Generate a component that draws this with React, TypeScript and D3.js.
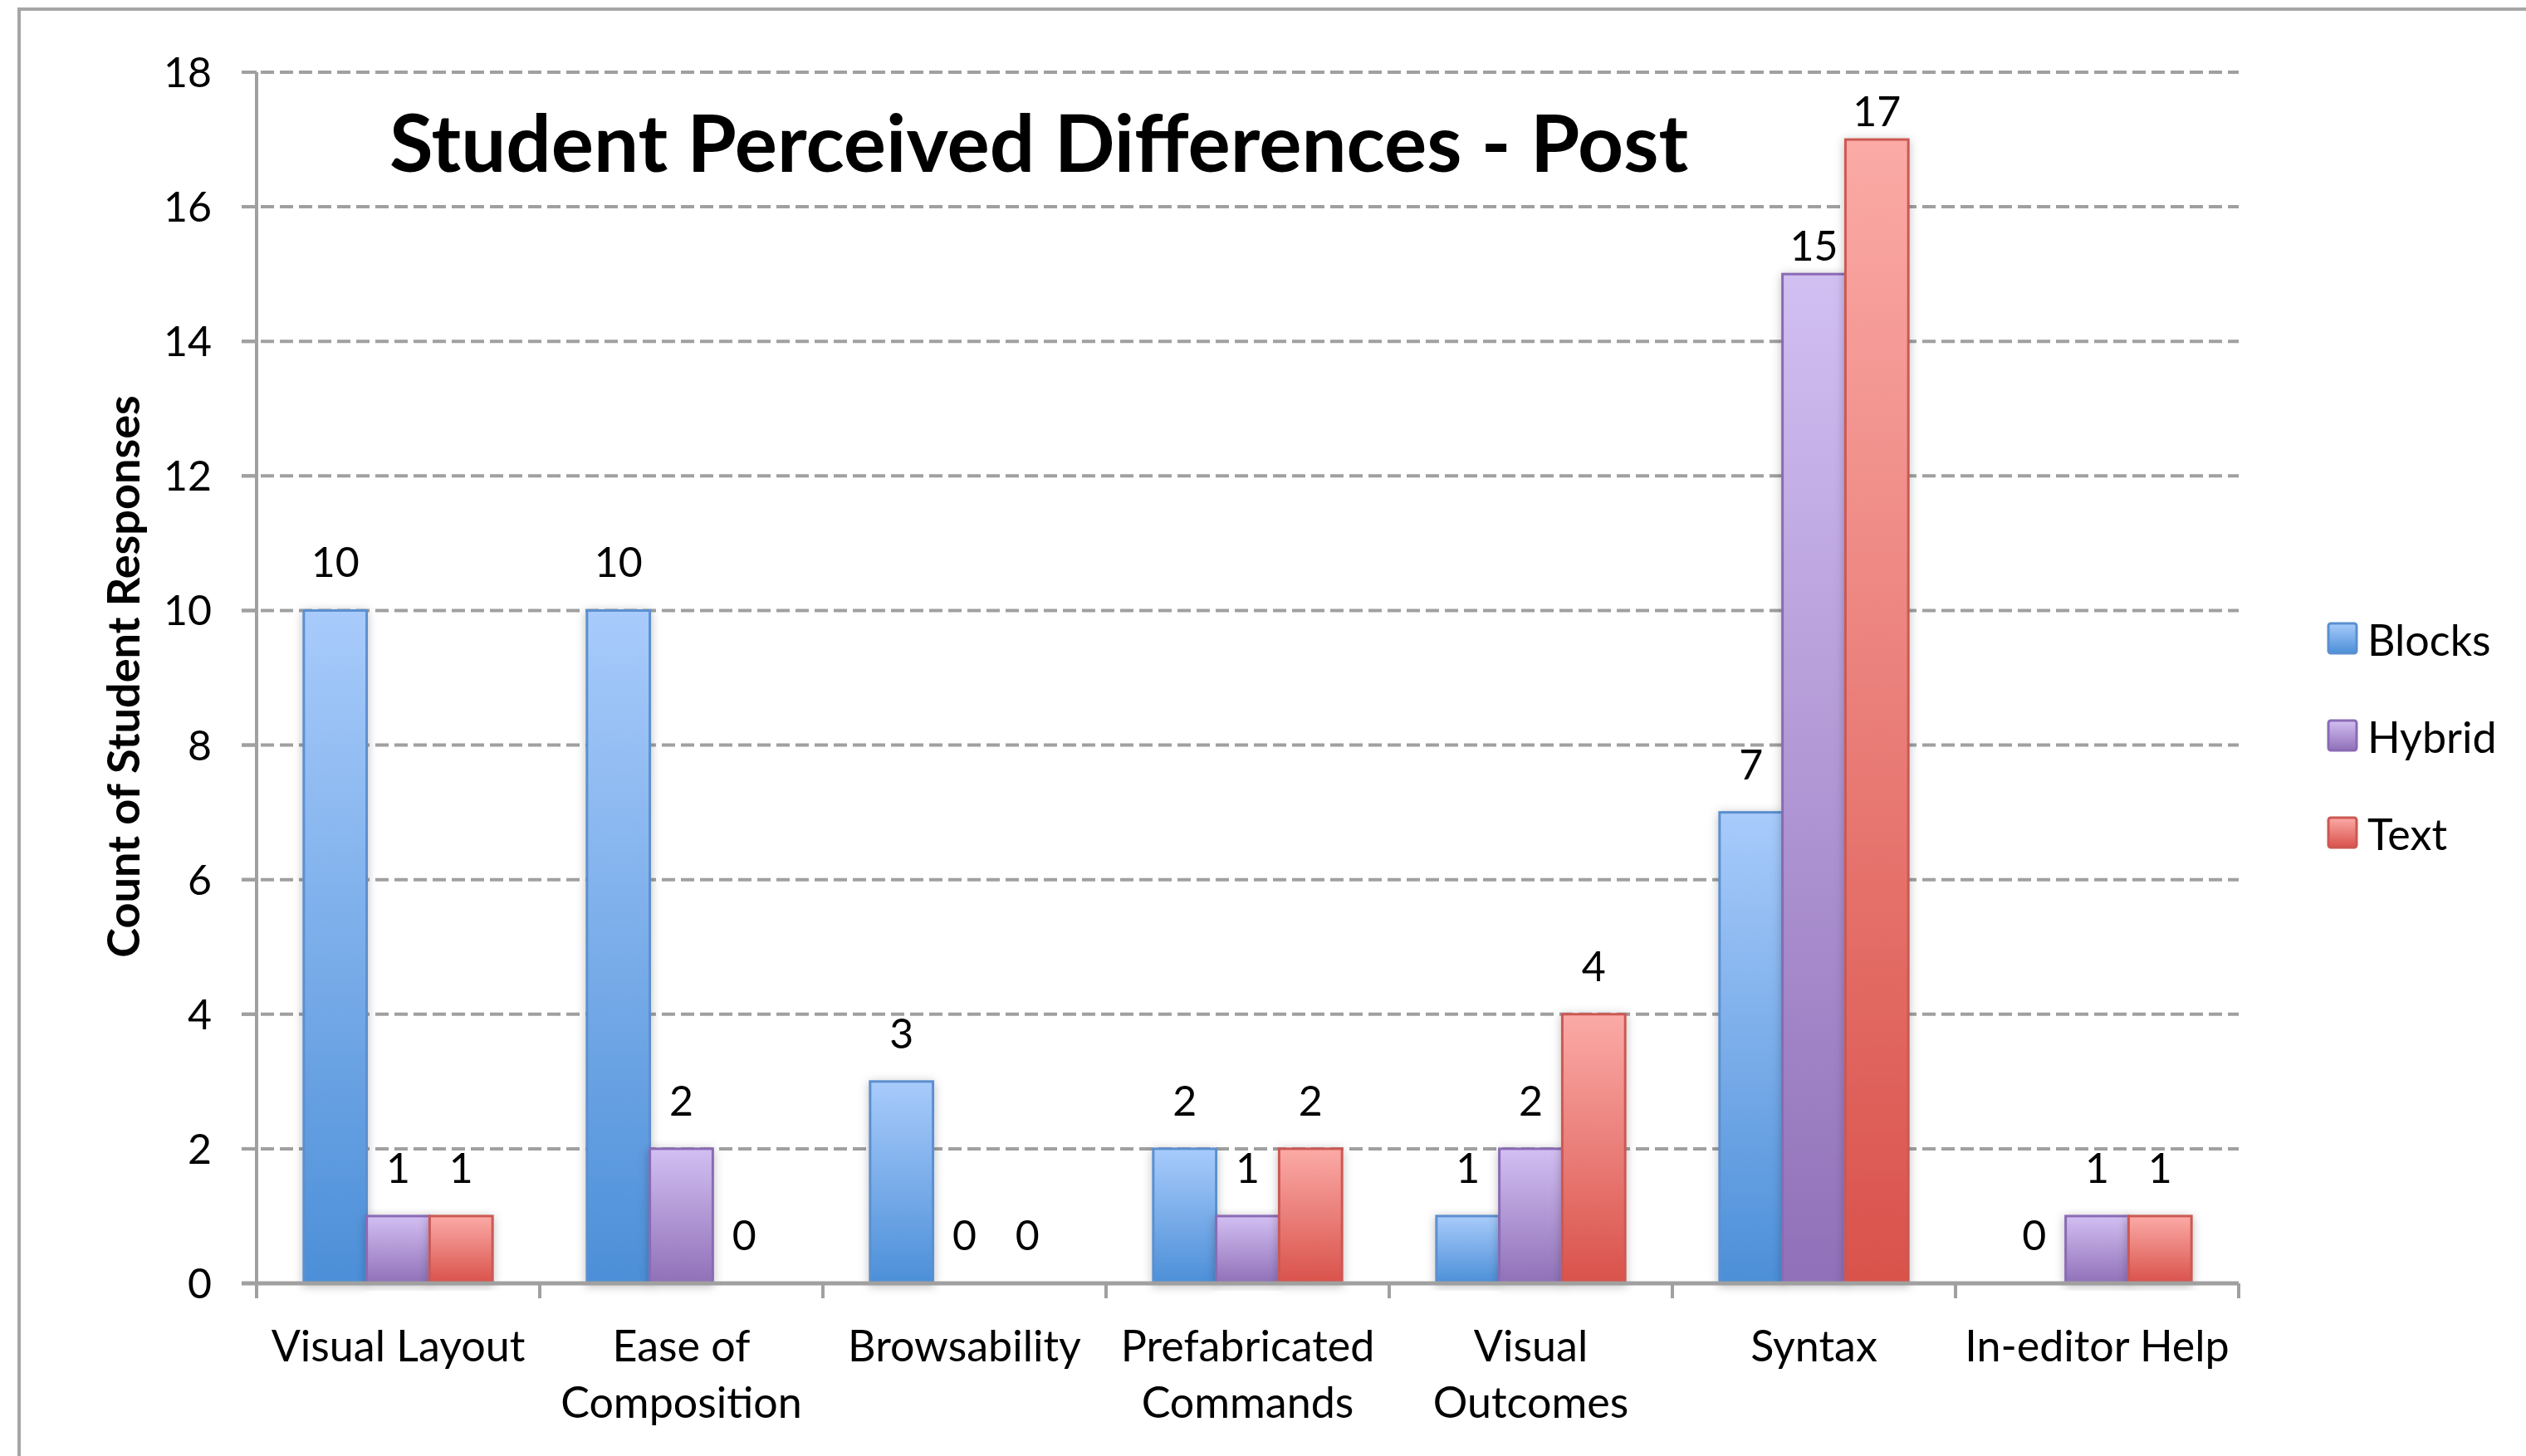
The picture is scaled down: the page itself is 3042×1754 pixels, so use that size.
import React from 'react';
import * as d3 from 'd3';

const categories = [
  'Visual Layout',
  'Ease of\nComposition',
  'Browsability',
  'Prefabricated\nCommands',
  'Visual\nOutcomes',
  'Syntax',
  'In-editor Help',
];
const seriesNames = ['Blocks', 'Hybrid', 'Text'];
const blocksValues = [10, 10, 3, 2, 1, 7, 0];
const hybridValues = [1, 2, 0, 1, 2, 15, 1];
const textValues = [1, 0, 0, 2, 4, 17, 1];
const yTickValues = [0, 2, 4, 6, 8, 10, 12, 14, 16, 18];

const seriesValues = [blocksValues, hybridValues, textValues];
const seriesStyle = [
  { top: '#a8cbfb', bottom: '#4c8fd8', stroke: '#5b8fcf' },
  { top: '#d2bff2', bottom: '#9070b8', stroke: '#8a6bb5' },
  { top: '#fbaaa6', bottom: '#d9524b', stroke: '#cc5852' },
];

const W = 3042;
const H = 1754;
const plotLeft = 309;
const plotRight = 2696;
const plotTop = 87;
const plotBottom = 1546;
const FONT = 'Lato, "Open Sans", sans-serif';
const GRID = '#a0a0a0';

export default function App() {
  const x0 = d3
    .scaleBand<string>()
    .domain(categories)
    .range([plotLeft, plotRight])
    .paddingInner(1 / 3)
    .paddingOuter(1 / 6);
  const x1 = d3
    .scaleBand<string>()
    .domain(seriesNames)
    .range([0, x0.bandwidth()]);
  const y = d3.scaleLinear().domain([0, 18]).range([plotBottom, plotTop]);
  const step = x0.step();
  const boundaries = d3.range(categories.length + 1).map((i) => plotLeft + i * step);

  const labelGap = (v: number) => (v >= 15 ? 16 : 40);

  return (
    <svg
      width={W}
      height={H}
      style={{ position: 'absolute', left: 0, top: 0, display: 'block', background: '#fff' }}
      fontFamily={FONT}
    >
      <defs>
        {seriesStyle.map((s, i) => (
          <linearGradient key={i} id={`grad${i}`} x1="0" y1="0" x2="0" y2="1">
            <stop offset="0%" stopColor={s.top} />
            <stop offset="100%" stopColor={s.bottom} />
          </linearGradient>
        ))}
        <filter id="shadow" x="-30%" y="-10%" width="160%" height="120%">
          <feDropShadow dx="0" dy="2" stdDeviation="6" floodColor="#000" floodOpacity="0.25" />
        </filter>
      </defs>

      {/* outer border */}
      <rect x={23} y={11} width={W + 100} height={H + 100} fill="#fff" stroke="#a6a6a6" strokeWidth={4} />

      {/* gridlines */}
      {yTickValues
        .filter((t) => t > 0)
        .map((t) => (
          <line
            key={`g${t}`}
            x1={plotLeft - 18}
            x2={plotRight}
            y1={y(t)}
            y2={y(t)}
            stroke={GRID}
            strokeWidth={4}
            strokeDasharray="16 7"
          />
        ))}

      {/* bars */}
      {categories.map((c, ci) => (
        <g key={c} transform={`translate(${x0(c)},0)`}>
          {seriesNames.map((s, si) => {
            const v = seriesValues[si][ci];
            if (v <= 0) return null;
            return (
              <rect
                key={s}
                x={x1(s)}
                y={y(v)}
                width={x1.bandwidth()}
                height={y(0) - y(v)}
                fill={`url(#grad${si})`}
                stroke={seriesStyle[si].stroke}
                strokeWidth={3}
                filter="url(#shadow)"
              />
            );
          })}
        </g>
      ))}

      {/* y axis */}
      <line x1={plotLeft} x2={plotLeft} y1={plotTop} y2={plotBottom} stroke={GRID} strokeWidth={4} />
      {yTickValues.map((t) => (
        <g key={`t${t}`}>
          <line x1={plotLeft - 18} x2={plotLeft} y1={y(t)} y2={y(t)} stroke={GRID} strokeWidth={4} />
          <text x={255} y={y(t)} dy="0.36em" textAnchor="end" fontSize={50} fill="#000">
            {t}
          </text>
        </g>
      ))}

      {/* x axis */}
      <line x1={plotLeft - 18} x2={plotRight} y1={plotBottom} y2={plotBottom} stroke={GRID} strokeWidth={5} />
      {boundaries.map((bx, i) => (
        <line key={`xt${i}`} x1={bx} x2={bx} y1={plotBottom} y2={plotBottom + 18} stroke={GRID} strokeWidth={4} />
      ))}
      {categories.map((c) => {
        const lines = c.split('\n');
        const cx = (x0(c) as number) + x0.bandwidth() / 2;
        return (
          <text key={`cl${c}`} textAnchor="middle" fontSize={52} fill="#000">
            {lines.map((ln, li) => (
              <tspan key={li} x={cx} y={1640 + li * 68}>
                {ln}
              </tspan>
            ))}
          </text>
        );
      })}

      {/* data labels */}
      {categories.map((c, ci) =>
        seriesNames.map((s, si) => {
          const v = seriesValues[si][ci];
          const cx = (x0(c) as number) + (x1(s) as number) + x1.bandwidth() / 2;
          return (
            <text
              key={`dl${ci}-${si}`}
              x={cx}
              y={y(v) - labelGap(v)}
              textAnchor="middle"
              fontSize={50}
              fill="#000"
            >
              {v}
            </text>
          );
        })
      )}

      {/* title */}
      <text x={1251} y={207} textAnchor="middle" fontSize={96} fontWeight="bold" fill="#000">
        Student Perceived Differences - Post
      </text>

      {/* y axis title */}
      <text
        transform={`translate(168,815) rotate(-90)`}
        textAnchor="middle"
        fontSize={54}
        fontWeight="bold"
        fill="#000"
      >
        Count of Student Responses
      </text>

      {/* legend */}
      {seriesNames.map((s, si) => {
        const ly = 769 + si * 117;
        return (
          <g key={`lg${s}`}>
            <rect
              x={2804}
              y={ly - 18}
              width={34}
              height={36}
              rx={3}
              fill={`url(#grad${si})`}
              stroke={seriesStyle[si].stroke}
              strokeWidth={3}
            />
            <text x={2851} y={ly} dy="0.4em" fontSize={52} fill="#000">
              {s}
            </text>
          </g>
        );
      })}
    </svg>
  );
}
